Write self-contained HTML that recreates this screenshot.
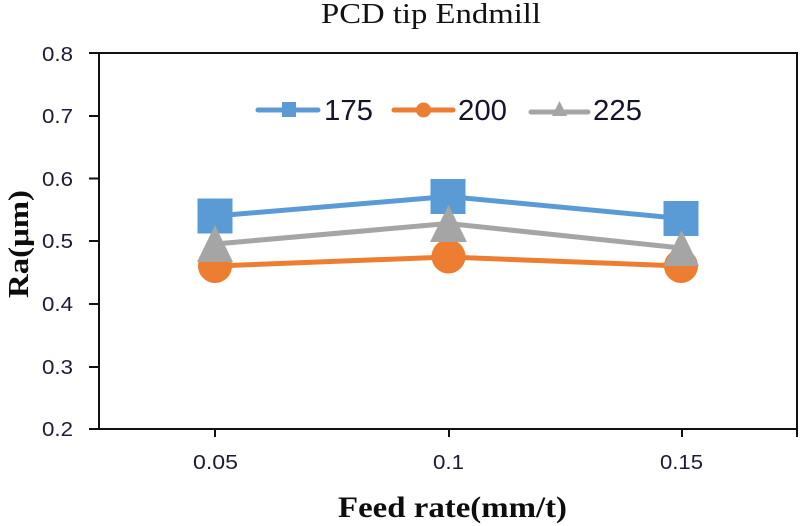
<!DOCTYPE html>
<html>
<head>
<meta charset="utf-8">
<style>
  html,body{margin:0;padding:0;background:#fff;}
  svg{display:block;}
  .tick{font-family:"Liberation Sans",sans-serif;font-size:20px;fill:#1c1c38;}
  .leg{font-family:"Liberation Sans",sans-serif;font-size:29px;fill:#14142e;}
  .ser{font-family:"Liberation Serif",serif;}
</style>
</head>
<body>
<svg width="800" height="526" viewBox="0 0 800 526" xmlns="http://www.w3.org/2000/svg">
  <rect x="0" y="0" width="800" height="526" fill="#fff"/>

  <!-- Title -->
  <text x="321" y="23" class="ser" font-size="29" fill="#111" textLength="220" lengthAdjust="spacingAndGlyphs">PCD tip  Endmill</text>

  <!-- Axes frame -->
  <g stroke="#111" stroke-width="2" fill="none">
    <line x1="89" y1="53" x2="798" y2="53"/>
    <line x1="99" y1="53" x2="99" y2="430"/>
    <line x1="89" y1="429" x2="798" y2="429"/>
    <line x1="797" y1="53" x2="797" y2="437"/>
    <!-- y ticks -->
    <line x1="89" y1="116" x2="99" y2="116"/>
    <line x1="89" y1="178.5" x2="99" y2="178.5"/>
    <line x1="89" y1="241" x2="99" y2="241"/>
    <line x1="89" y1="304" x2="99" y2="304"/>
    <line x1="89" y1="367" x2="99" y2="367"/>
    <!-- x ticks -->
    <line x1="215" y1="429" x2="215" y2="437"/>
    <line x1="449" y1="429" x2="449" y2="437"/>
    <line x1="682" y1="429" x2="682" y2="437"/>
  </g>

  <!-- Y tick labels -->
  <g class="tick">
    <text x="42" y="61" textLength="31" lengthAdjust="spacingAndGlyphs">0.8</text>
    <text x="42" y="123" textLength="31" lengthAdjust="spacingAndGlyphs">0.7</text>
    <text x="42" y="186" textLength="31" lengthAdjust="spacingAndGlyphs">0.6</text>
    <text x="42" y="248" textLength="31" lengthAdjust="spacingAndGlyphs">0.5</text>
    <text x="42" y="311" textLength="31" lengthAdjust="spacingAndGlyphs">0.4</text>
    <text x="42" y="374" textLength="31" lengthAdjust="spacingAndGlyphs">0.3</text>
    <text x="42" y="436" textLength="31" lengthAdjust="spacingAndGlyphs">0.2</text>
  </g>

  <!-- X tick labels -->
  <g class="tick">
    <text x="193" y="469" textLength="45" lengthAdjust="spacingAndGlyphs">0.05</text>
    <text x="433" y="469" textLength="31" lengthAdjust="spacingAndGlyphs">0.1</text>
    <text x="660" y="469" textLength="43" lengthAdjust="spacingAndGlyphs">0.15</text>
  </g>

  <!-- Axis titles -->
  <text x="452.5" y="517" class="ser" font-size="30" font-weight="bold" fill="#0d0d0d" text-anchor="middle" textLength="229" lengthAdjust="spacingAndGlyphs">Feed rate(mm/t)</text>
  <text transform="translate(28,244) rotate(-90)" class="ser" font-size="29" font-weight="bold" fill="#0d0d0d" text-anchor="middle" textLength="108" lengthAdjust="spacingAndGlyphs">Ra(μm)</text>

  <!-- Legend -->
  <line x1="258" y1="110" x2="318" y2="110" stroke="#5b9bd5" stroke-width="5" stroke-linecap="round"/>
  <rect x="282" y="102" width="14" height="15" fill="#5b9bd5"/>
  <text x="324" y="120" class="leg" textLength="49" lengthAdjust="spacingAndGlyphs">175</text>

  <line x1="394" y1="110" x2="453" y2="110" stroke="#ed7d31" stroke-width="5" stroke-linecap="round"/>
  <circle cx="423.5" cy="110" r="7.5" fill="#ed7d31"/>
  <text x="458" y="120" class="leg" textLength="49" lengthAdjust="spacingAndGlyphs">200</text>

  <line x1="531" y1="112" x2="588" y2="112" stroke="#a5a5a5" stroke-width="5" stroke-linecap="round"/>
  <polygon points="559.5,101 567,116 552,116" fill="#a5a5a5"/>
  <text x="593" y="120" class="leg" textLength="49" lengthAdjust="spacingAndGlyphs">225</text>

  <!-- Series 175 (blue) -->
  <polyline points="215,216 448,196.5 681,218.5" fill="none" stroke="#5b9bd5" stroke-width="5" stroke-linejoin="round"/>
  <rect x="197.5" y="198.5" width="35" height="35" fill="#5b9bd5"/>
  <rect x="430.5" y="179" width="35" height="35" fill="#5b9bd5"/>
  <rect x="663.5" y="201" width="35" height="35" fill="#5b9bd5"/>

  <!-- Series 200 (orange) -->
  <polyline points="215,266 448,257 681,266" fill="none" stroke="#ed7d31" stroke-width="5" stroke-linejoin="round"/>
  <circle cx="215" cy="266" r="17" fill="#ed7d31"/>
  <circle cx="448.5" cy="256.5" r="17" fill="#ed7d31"/>
  <circle cx="681" cy="266" r="17" fill="#ed7d31"/>

  <!-- Series 225 (gray) -->
  <polyline points="215,244 448,223.5 681,248" fill="none" stroke="#a5a5a5" stroke-width="5" stroke-linejoin="round"/>
  <polygon points="215,225 233,262 197,262" fill="#a5a5a5"/>
  <polygon points="448.5,205 467,242 430,242" fill="#a5a5a5"/>
  <polygon points="681.5,230 699,266 664,266" fill="#a5a5a5"/>
</svg>
</body>
</html>
